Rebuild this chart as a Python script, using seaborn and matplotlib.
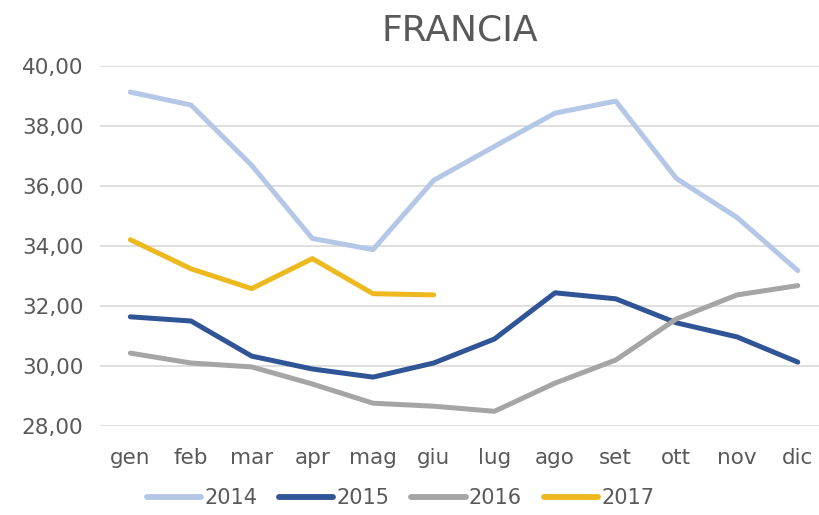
import numpy as np
import pandas as pd
import matplotlib
matplotlib.use("Agg")
import matplotlib.pyplot as plt
import seaborn as sns

months = ['gen', 'feb', 'mar', 'apr', 'mag', 'giu', 'lug', 'ago', 'set', 'ott', 'nov', 'dic']
v2014 = [39.13, 38.70, 36.69, 34.25, 33.88, 36.19, 37.32, 38.43, 38.83, 36.25, 34.95, 33.18]
v2015 = [31.64, 31.50, 30.33, 29.90, 29.63, 30.10, 30.90, 32.44, 32.24, 31.44, 30.97, 30.13]
v2016 = [30.43, 30.10, 29.97, 29.40, 28.76, 28.66, 28.49, 29.43, 30.20, 31.57, 32.37, 32.68]
v2017 = [34.21, 33.24, 32.58, 33.58, 32.41, 32.37]
years = ['2014', '2015', '2016', '2017']
colors = ['#B4C7E7', '#2F5597', '#A5A5A5', '#EDB91F']

rows = []
for y, vals in zip(years, [v2014, v2015, v2016, v2017]):
    for i, v in enumerate(vals):
        rows.append({'mese': i, 'valore': v, 'anno': y})
df = pd.DataFrame(rows)

sns.set_style('white')
plt.rcParams['font.family'] = ['DejaVu Sans']
txt = '#595959'

fig = plt.figure(figsize=(8.19, 5.15), dpi=100)
ax = fig.add_axes([100 / 819, 0.1728, 719 / 819, 0.699])

sns.lineplot(data=df, x='mese', y='valore', hue='anno', palette=colors,
             linewidth=3.6, ax=ax, legend=True)
for ln in ax.get_lines():
    ln.set_solid_capstyle('round')
    ln.set_solid_joinstyle('round')

ax.set_xlim(-0.5, 11.35)
ax.set_ylim(28, 40)
ax.set_yticks(np.arange(28, 41, 2))
ax.set_yticklabels([f'{t:.2f}'.replace('.', ',') for t in np.arange(28, 41, 2)])
ax.set_xticks(range(12))
ax.set_xticklabels(months)
ax.yaxis.grid(True, color='#D9D9D9', linewidth=1.2)
ax.set_axisbelow(True)
for s in ax.spines.values():
    s.set_visible(False)
ax.tick_params(axis='both', length=0, labelsize=15.5, colors=txt)
ax.tick_params(axis='x', pad=16)
ax.tick_params(axis='y', pad=12)
ax.set_xlabel('')
ax.set_ylabel('')

fig.text(0.562, 0.94, 'FRANCIA', ha='center', va='center', fontsize=26, color=txt)

h, l = ax.get_legend_handles_labels()
for hh in h:
    hh.set_linewidth(4.2)
    hh.set_solid_capstyle('round')
ax.legend(h, l, loc='center', bbox_to_anchor=(0.418, -0.2), ncol=4, frameon=False,
          fontsize=15, labelcolor=txt, handlelength=2.6, handletextpad=0.15,
          columnspacing=1.05, borderpad=0.2)

fig.savefig('out.png', dpi=100)
